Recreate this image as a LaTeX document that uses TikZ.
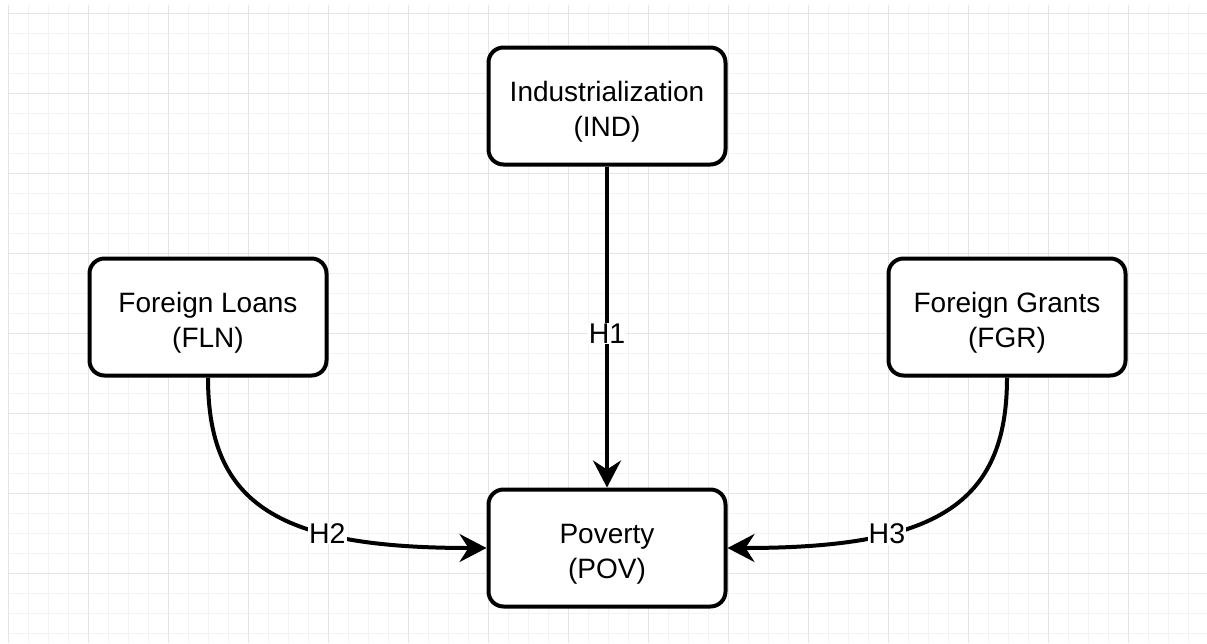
\documentclass[tikz,border=0pt]{standalone}
\usepackage{fontspec}
\setmainfont{Liberation Sans}
\usetikzlibrary{arrows.meta}
\definecolor{gridmajor}{RGB}{228,228,228}
\definecolor{gridminor}{RGB}{243,243,243}
\definecolor{ink}{RGB}{0,0,0}

\begin{document}
\begin{tikzpicture}[
    x=1pt,y=-1pt,
    varbox/.style={draw=ink,fill=white,line width=4pt,rounded corners=15pt,
      minimum width=237pt,minimum height=117pt,align=center,inner sep=0pt,
      text height=66pt,font=\fontsize{28}{35}\selectfont},
    link/.style={-{Stealth[length=27pt,width=28pt,inset=9pt]},line width=4pt,draw=ink},
    hyp/.style={fill=white,inner sep=1pt,font=\fontsize{28.5}{32}\selectfont}
  ]
  \useasboundingbox (0,0) rectangle (1207,643);

  % background grid
  \foreach \i in {0,...,59}
    \draw[gridminor,line width=1pt] (8+20*\i,5) -- (8+20*\i,643);
  \foreach \j in {0,...,31}
    \draw[gridminor,line width=1pt] (8,13+20*\j) -- (1207,13+20*\j);
  \foreach \i in {0,...,14}
    \draw[gridmajor,line width=1pt] (8+80*\i,5) -- (8+80*\i,643);
  \foreach \j in {0,...,7}
    \draw[gridmajor,line width=1pt] (8,13+80*\j) -- (1207,13+80*\j);

  \node[varbox] (ind) at (607,106) {Industrialization\\(IND)};
  \node[varbox] (fln) at (208,317) {Foreign Loans\\(FLN)};
  \node[varbox] (fgr) at (1007,317) {Foreign Grants\\(FGR)};
  \node[varbox] (pov) at (607,548) {Poverty\\(POV)};

  \draw[link] (ind) -- node[hyp,pos=0.52] {H1} (pov);
  \draw[link] (fln.south) .. controls +(0,128) and +(-207,0) .. (pov.west)
    node[hyp,pos=0.68] {H2};
  \draw[link] (fgr.south) .. controls +(0,128) and +(207,0) .. (pov.east)
    node[hyp,pos=0.68] {H3};
\end{tikzpicture}
\end{document}
